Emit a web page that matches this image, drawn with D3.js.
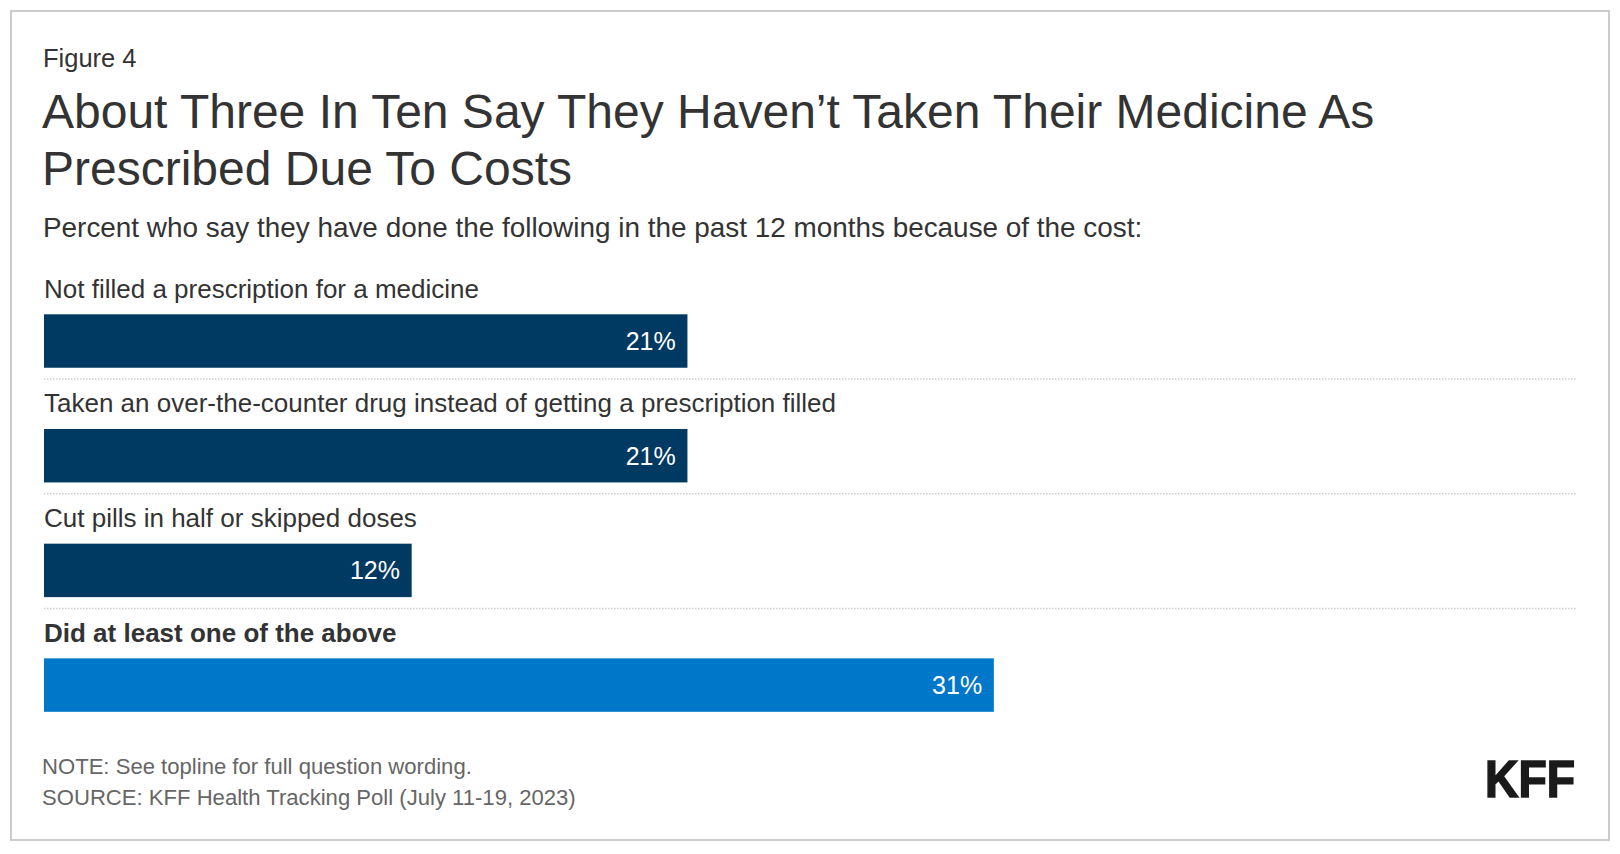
<!DOCTYPE html>
<html>
<head>
<meta charset="utf-8">
<script src="https://cdn.jsdelivr.net/npm/d3@7"></script>
<style>
  html, body { margin: 0; padding: 0; background: #fff; }
  svg { display: block; }
  text { font-family: Arial, "Liberation Sans", Helvetica, sans-serif; }
</style>
</head>
<body>
<svg id="chart" width="1620" height="854"></svg>
<script>
// ---- Data ----
const categories = [
  "Not filled a prescription for a medicine",
  "Taken an over-the-counter drug instead of getting a prescription filled",
  "Cut pills in half or skipped doses",
  "Did at least one of the above"
];
const values = [21, 21, 12, 31];
const highlight = [false, false, false, true];

const figureLabel = "Figure 4";
const titleLines = [
  "About Three In Ten Say They Haven\u2019t Taken Their Medicine As",
  "Prescribed Due To Costs"
];
const subtitle = "Percent who say they have done the following in the past 12 months because of the cost:";
const noteLines = [
  "NOTE: See topline for full question wording.",
  "SOURCE: KFF Health Tracking Poll (July 11-19, 2023)"
];

// ---- Drawing ----
const svg = d3.select("#chart");
const W = 1620, H = 854;
const darkBlue = "#003A63", brightBlue = "#0077C8";
const textColor = "#333333", noteColor = "#666666";

svg.append("rect").attr("width", W).attr("height", H).attr("fill", "#fff");
svg.append("rect")
  .attr("x", 11).attr("y", 11).attr("width", 1598).attr("height", 829)
  .attr("fill", "none").attr("stroke", "#cccccc").attr("stroke-width", 2);

const left = 43;
svg.append("text").attr("x", left).attr("y", 66.5)
  .attr("font-size", 25.5).attr("fill", textColor).text(figureLabel);

svg.append("g").selectAll("text").data(titleLines).join("text")
  .attr("x", left - 1).attr("y", (d, i) => 127.5 + i * 57)
  .attr("font-size", 48).attr("fill", textColor).text(d => d);

svg.append("text").attr("x", left).attr("y", 236.5)
  .attr("font-size", 27.9).attr("fill", textColor).text(subtitle);

const x = d3.scaleLinear().domain([0, 50]).range([44, 1576]);
const y = d3.scaleBand().domain(categories).range([314.3, 711.8])
  .paddingInner(0.534).paddingOuter(0);

const rows = svg.append("g").selectAll("g").data(categories).join("g");

rows.append("text")
  .attr("x", 44).attr("y", d => y(d) - 16.6)
  .attr("font-size", 26)
  .attr("font-weight", (d, i) => highlight[i] ? "bold" : "normal")
  .attr("fill", textColor).text(d => d);

rows.append("rect")
  .attr("x", x(0)).attr("y", d => y(d))
  .attr("width", (d, i) => x(values[i]) - x(0))
  .attr("height", y.bandwidth())
  .attr("fill", (d, i) => highlight[i] ? brightBlue : darkBlue);

rows.append("text")
  .attr("x", (d, i) => x(values[i]) - 11.7)
  .attr("y", d => y(d) + y.bandwidth() / 2 + 8.8)
  .attr("text-anchor", "end").attr("font-size", 25)
  .attr("fill", "#ffffff").text((d, i) => values[i] + "%");

rows.filter((d, i) => i < categories.length - 1).append("line")
  .attr("x1", x(0)).attr("x2", x(50))
  .attr("y1", d => y(d) + y.bandwidth() + 11.3)
  .attr("y2", d => y(d) + y.bandwidth() + 11.3)
  .attr("stroke", "#cfcfcf").attr("stroke-width", 1.5)
  .attr("stroke-dasharray", "1.5,1.5");

svg.append("g").selectAll("text").data(noteLines).join("text")
  .attr("x", left - 1).attr("y", (d, i) => 774.3 + i * 30.5)
  .attr("font-size", 22.1).attr("fill", noteColor).text(d => d);

svg.append("text")
  .attr("x", 1575).attr("y", 796.7).attr("text-anchor", "end")
  .style("font-family", "'Liberation Sans Narrow', 'Arial Narrow', Arial, sans-serif")
  .attr("font-size", 51).attr("font-weight", 900).attr("fill", "#1a1a1a")
  .attr("stroke", "#1a1a1a").attr("stroke-width", 1.6)
  .attr("textLength", 90).attr("lengthAdjust", "spacingAndGlyphs")
  .text("KFF");
</script>
</body>
</html>
